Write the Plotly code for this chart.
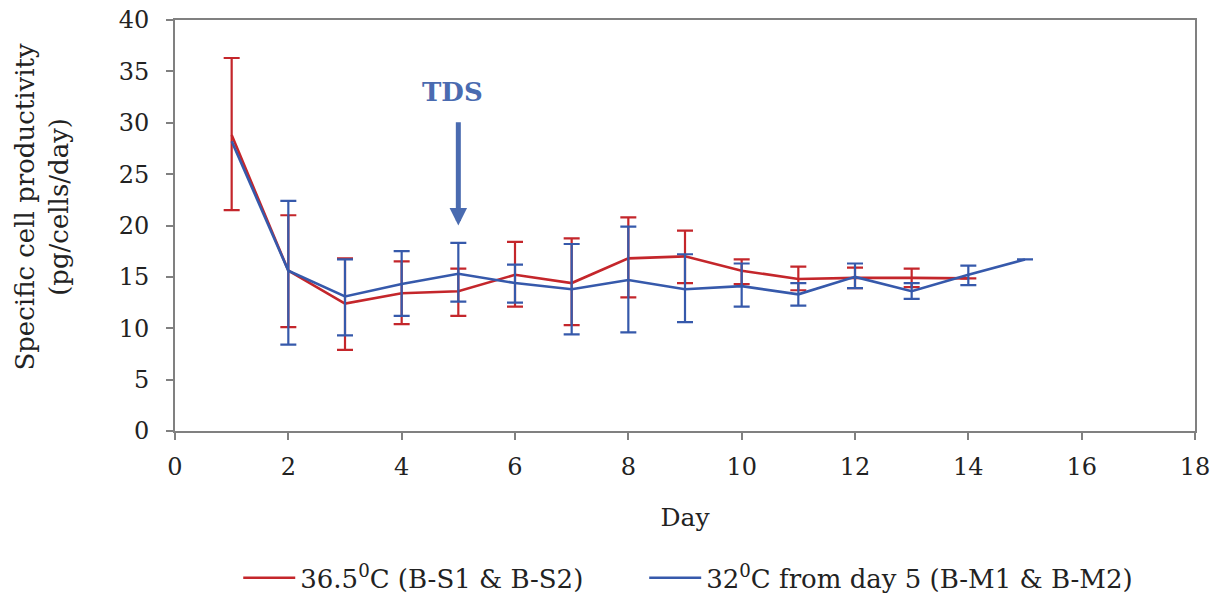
import plotly.graph_objects as go

days_red = [1, 2, 3, 4, 5, 6, 7, 8, 9, 10, 11, 12, 13, 14]
red_vals = [28.8, 15.6, 12.4, 13.4, 13.6, 15.2, 14.4, 16.8, 17.0, 15.6, 14.8, 14.9, 14.9, 14.85]
red_upper = [36.3, 21.0, 16.8, 16.5, 15.8, 18.4, 18.75, 20.8, 19.5, 16.7, 16.0, 15.9, 15.8, 14.85]
red_lower = [21.5, 10.1, 7.9, 10.4, 11.2, 12.1, 10.3, 13.0, 14.4, 14.3, 13.7, 13.9, 14.0, 14.85]

days_blue = [1, 2, 3, 4, 5, 6, 7, 8, 9, 10, 11, 12, 13, 14, 15]
blue_vals = [28.2, 15.6, 13.1, 14.3, 15.3, 14.4, 13.8, 14.7, 13.8, 14.1, 13.3, 15.0, 13.6, 15.2, 16.7]
# error bars for blue exist from day 2 onwards
blue_err_days = [2, 3, 4, 5, 6, 7, 8, 9, 10, 11, 12, 13, 14, 15]
blue_upper = [22.4, 16.7, 17.5, 18.3, 16.2, 18.2, 19.9, 17.2, 16.3, 14.4, 16.3, 14.4, 16.1, 16.7]
blue_lower = [8.4, 9.3, 11.2, 12.6, 12.5, 9.4, 9.6, 10.6, 12.1, 12.2, 13.9, 12.85, 14.2, 16.7]

x_ticks = [0, 2, 4, 6, 8, 10, 12, 14, 16, 18]
y_ticks = [0, 5, 10, 15, 20, 25, 30, 35, 40]

red_name = "36.5<sup>0</sup>C (B-S1 & B-S2)"
blue_name = "32<sup>0</sup>C from day 5 (B-M1 & B-M2)"
y_title = "Specific cell productivity<br>(pg/cells/day)"

RED = "#C4262B"
BLUE = "#3659AB"
ARROW = "#4A6BB0"
FONT = "DejaVu Serif"


def err(vals, up, lo, color):
    plus = [u - v for u, v in zip(up, vals)]
    minus = [v - l for v, l in zip(vals, lo)]
    return dict(type="data", symmetric=False, array=plus, arrayminus=minus,
                thickness=2.2, width=8, color=color)


fig = go.Figure()
fig.add_trace(go.Scatter(
    x=days_red, y=red_vals, mode="lines", name=red_name, legend="legend",
    line=dict(color=RED, width=2.6),
    error_y=err(red_vals, red_upper, red_lower, RED),
))
fig.add_trace(go.Scatter(
    x=days_blue, y=blue_vals, mode="lines", name=blue_name, legend="legend2",
    line=dict(color=BLUE, width=2.6),
))
blue_err_vals = [blue_vals[days_blue.index(d)] for d in blue_err_days]
fig.add_trace(go.Scatter(
    x=blue_err_days, y=blue_err_vals, mode="markers", showlegend=False,
    marker=dict(size=1, opacity=0, color=BLUE), hoverinfo="skip",
    error_y=err(blue_err_vals, blue_upper, blue_lower, BLUE),
))

fig.add_annotation(x=4.89, y=33.0, xref="x", yref="y", text="<b>TDS</b>",
                   showarrow=False, font=dict(family=FONT, size=26, color=ARROW))
fig.add_annotation(x=5, y=20.0, xref="x", yref="y", ax=5, ay=30.2, axref="x", ayref="y",
                   text="", showarrow=True, arrowhead=2, arrowsize=0.7, arrowwidth=5,
                   arrowcolor=ARROW)
fig.add_annotation(x=-0.13, y=0.547, xref="paper", yref="paper", text=y_title,
                   textangle=-90, showarrow=False, xanchor="center", yanchor="middle",
                   font=dict(family=FONT, size=26, color="#222222"))

axis_common = dict(
    showline=True, linecolor="#808080", linewidth=2, mirror=True,
    ticks="outside", ticklen=7, tickwidth=2, tickcolor="#808080",
    showgrid=False, zeroline=False, automargin=False, ticklabeloverflow="allow",
    tickfont=dict(family=FONT, size=24, color="#222222"),
)

legend_common = dict(orientation="h", xanchor="left", y=-0.30, yanchor="top",
                     font=dict(family=FONT, size=26), itemwidth=52,
                     bgcolor="rgba(0,0,0,0)")

fig.update_layout(
    width=1203, height=586,
    margin=dict(l=167, r=16, t=12, b=163, autoexpand=False),
    paper_bgcolor="white", plot_bgcolor="white",
    font=dict(family=FONT, color="#222222"),
    xaxis=dict(axis_common, range=[0, 18], tickvals=x_ticks, ticklabelstandoff=6,
               title=dict(text="Day", font=dict(family=FONT, size=25), standoff=29)),
    yaxis=dict(axis_common, range=[0, 40], tickvals=y_ticks, ticklabelstandoff=12),
    legend=dict(legend_common, x=0.062),
    legend2=dict(legend_common, x=0.46),
    showlegend=True,
)

fig.write_html("out.html")
